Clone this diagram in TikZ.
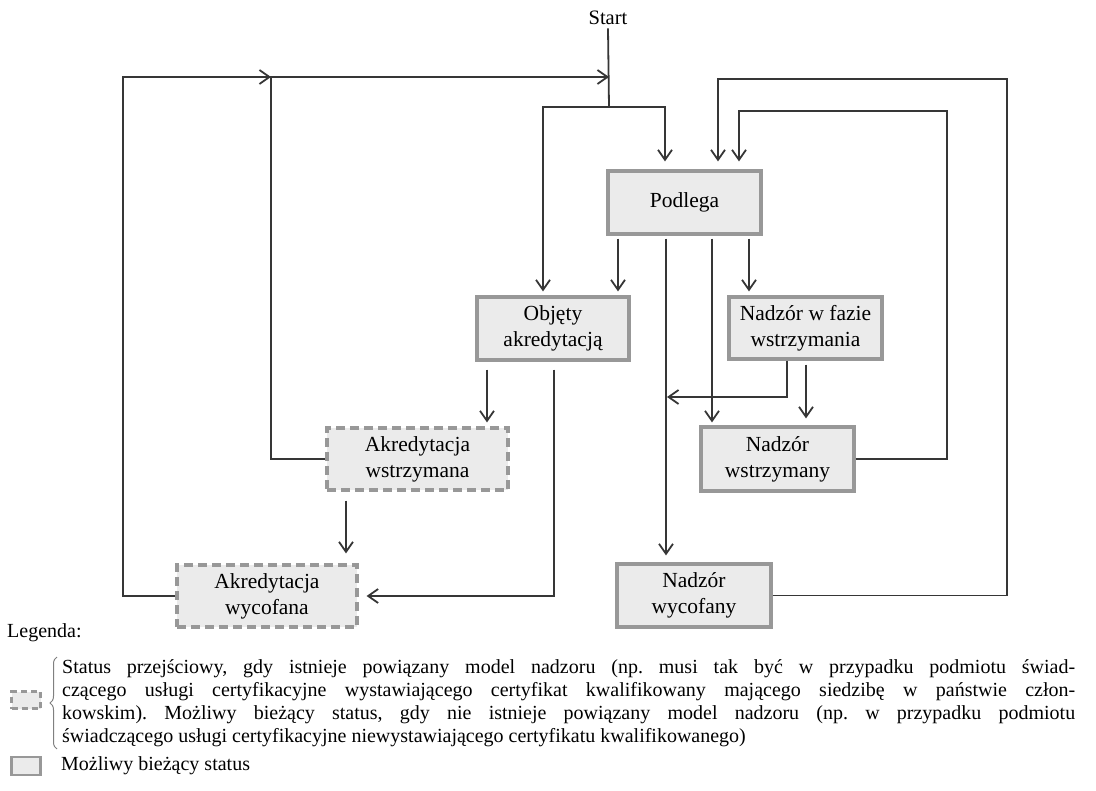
\documentclass[tikz,border=0pt]{standalone}
\usepackage{fontspec}
\setmainfont{Liberation Serif}
\usetikzlibrary{arrows.meta,decorations.pathreplacing,calc}
\definecolor{lncol}{HTML}{363636}
\definecolor{bdcol}{HTML}{989898}
\definecolor{bfcol}{HTML}{EBEBEB}
\frenchspacing
\begin{document}
\begin{tikzpicture}[x=1pt,y=-1pt,
  every node/.style={font=\fontsize{21.5}{26}\selectfont, text=black},
  box/.style={draw=bdcol, fill=bfcol, line width=3.2pt, align=center, inner sep=0pt},
  dbox/.style={box, dash pattern=on 9pt off 5pt},
  wire/.style={draw=lncol, line width=1.8pt},
  arr/.style={wire, -{Straight Barb[length=10pt,width=14pt]}},
  legfont/.style={font=\fontsize{20}{23}\selectfont}]
\useasboundingbox (0,0) rectangle (1096,791);

% state boxes
\node[box, minimum width=153pt, minimum height=63pt] (podlega) at (684.5,202.5) {Podlega};
\node[box, minimum width=152pt, minimum height=63pt] (objety) at (553,328.5) {Objęty\\akredytacją};
\node[box, minimum width=153pt, minimum height=62pt] (nfaz) at (805.5,328) {Nadzór w fazie\\wstrzymania};
\node[dbox, minimum width=181pt, minimum height=62pt] (aks) at (417.5,459) {Akredytacja\\wstrzymana};
\node[box, minimum width=153pt, minimum height=64pt] (nwstrz) at (777.5,459) {Nadzór\\wstrzymany};
\node[dbox, minimum width=180pt, minimum height=62pt] (akw) at (267,596) {Akredytacja\\wycofana};
\node[box, minimum width=154pt, minimum height=63pt] (nwyc) at (694,595.5) {Nadzór\\wycofany};

\node[font=\fontsize{20.5}{24}\selectfont] (start) at (608,18) {Start};

% helper coordinates
\coordinate (cS) at (609,77);
\coordinate (cJ) at (609,107);
\coordinate (cL) at (123,77);
\coordinate (cM) at (271,77);
\coordinate (cO) at (1007,79);
\coordinate (cI) at (947,111);
\coordinate (cH) at (667,397);
\coordinate (pt1) at ([xshift=-19.5pt]podlega.north);
\coordinate (pt2) at ([xshift=33.5pt]podlega.north);
\coordinate (pt3) at ([xshift=54.5pt]podlega.north);
\coordinate (ot1) at ([xshift=-10pt]objety.north);
\coordinate (pb1) at ([xshift=-66.5pt]podlega.south);
\coordinate (pb2) at ([xshift=-18.5pt]podlega.south);
\coordinate (pb3) at ([xshift=27.5pt]podlega.south);
\coordinate (pb4) at ([xshift=64.5pt]podlega.south);
\coordinate (fb1) at ([xshift=-18.5pt]nfaz.south);
\coordinate (fb2) at ([xshift=0.5pt]nfaz.south);
\coordinate (ob1) at ([xshift=-66pt]objety.south);
\coordinate (ob2) at ([xshift=1pt]objety.south);
\coordinate (ab1) at ([xshift=-71.5pt]aks.south);

% start
\draw[wire] (start.south) -- (cJ);
\draw[arr, shorten >=8pt] (cJ) -| (pt1);
\draw[arr, shorten >=4pt] (cJ) -| (ot1);

% returns on the left
\draw[arr] (akw.west) -| (cL) -- (cM);
\draw[arr] (aks.west) -| (cM) -- (cS);

% returns on the right
\draw[arr, shorten >=8pt] (nwyc.east) -| (cO) -| (pt2);
\draw[arr, shorten >=8pt] (nwstrz.east) -| (cI) -| (pt3);

% from Podlega
\draw[arr, shorten <=3pt, shorten >=4pt] (pb1) -- (pb1 |- objety.north);
\draw[arr, shorten <=3pt, shorten >=7pt] (pb2) -- (pb2 |- nwyc.north);
\draw[arr, shorten <=3pt, shorten >=3pt] (pb3) -- (pb3 |- nwstrz.north);
\draw[arr, shorten <=3pt, shorten >=4pt] (pb4) -- (pb4 |- nfaz.north);

% from Nadzor w fazie wstrzymania
\draw[arr] (fb1) |- (cH);
\draw[arr, shorten <=4pt, shorten >=7pt] (fb2) -- (fb2 |- nwstrz.north);

% from Objety akredytacja
\draw[arr, shorten <=8pt, shorten >=4pt] (ob1) -- (ob1 |- aks.north);
\draw[arr, shorten <=8pt, shorten >=8pt] (ob2) |- (akw.east);

% from Akredytacja wstrzymana
\draw[arr, shorten <=9pt, shorten >=10pt] (ab1) -- (ab1 |- akw.north);

% legend
\node[legfont, anchor=west, inner sep=0pt] (legenda) at (7,633) {Legenda:};
\node[dbox, line width=2.6pt, dash pattern=on 6pt off 4pt, minimum width=29pt, minimum height=17pt] (legd) at (26,700) {};
\draw[draw=gray, line width=1pt, decorate, decoration={brace, amplitude=7pt}] (57,749) -- (57,657);
\node[legfont, anchor=north west, inner sep=0pt, align=left] (legtxt) at (62,659) {%
\makebox[1013pt][s]{Status przejściowy, gdy istnieje powiązany model nadzoru (np. musi tak być w przypadku podmiotu świad-}\\
\makebox[1013pt][s]{czącego usługi certyfikacyjne wystawiającego certyfikat kwalifikowany mającego siedzibę w państwie człon-}\\
\makebox[1013pt][s]{kowskim). Możliwy bieżący status, gdy nie istnieje powiązany model nadzoru (np. w przypadku podmiotu}\\
świadczącego usługi certyfikacyjne niewystawiającego certyfikatu kwalifikowanego)};
\node[box, line width=2.6pt, minimum width=29pt, minimum height=18pt] (legs) at (26,766) {};
\node[legfont, anchor=west, inner sep=0pt] (legstxt) at (61,766) {Możliwy bieżący status};
\end{tikzpicture}
\end{document}
